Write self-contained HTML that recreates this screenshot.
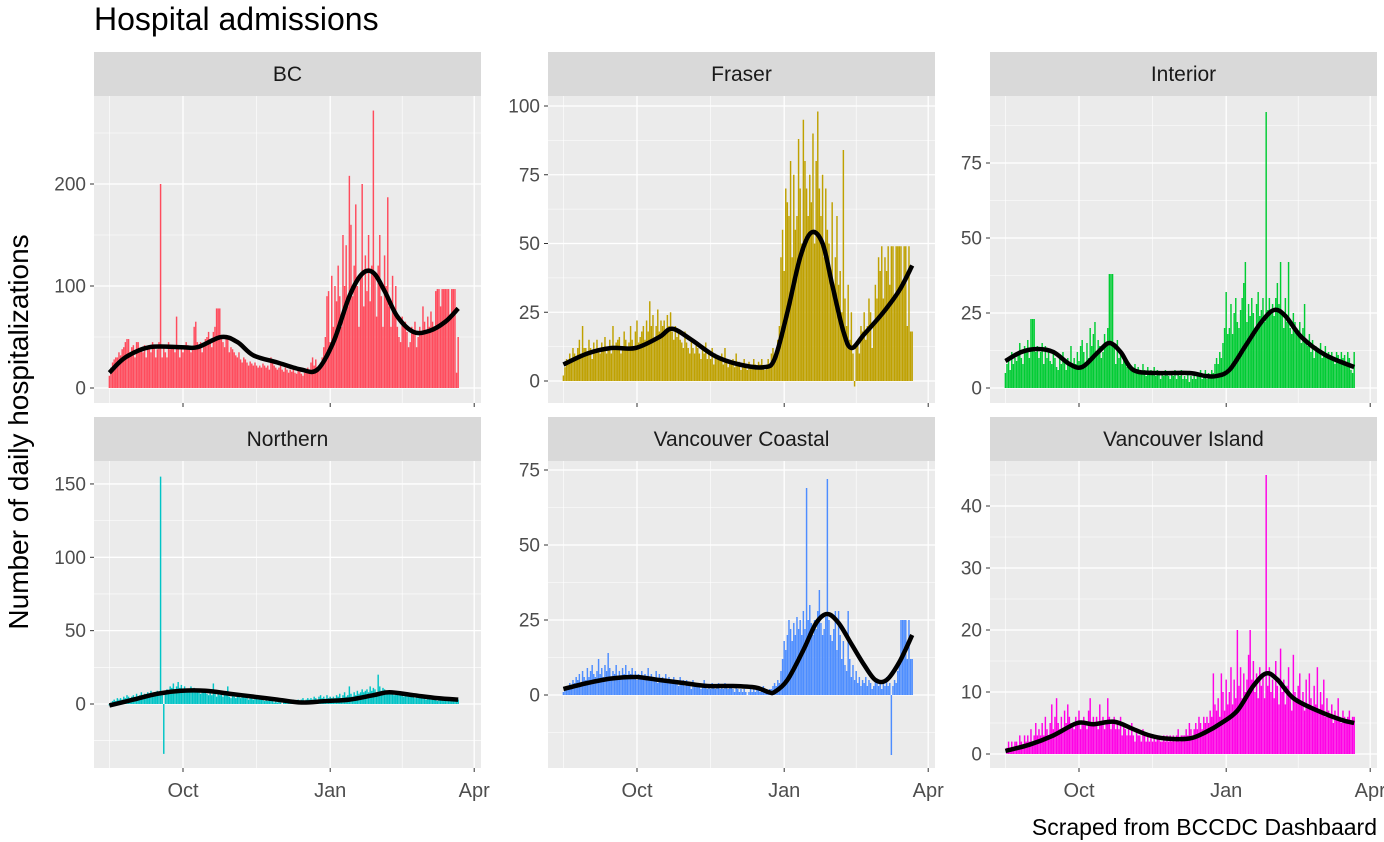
<!DOCTYPE html>
<html><head><meta charset="utf-8"><style>
body{margin:0;background:#fff;}
svg{display:block;font-family:"Liberation Sans",Arial,sans-serif;}
</style></head><body>
<svg id="chart" width="1384" height="842" viewBox="0 0 1384 842" xmlns="http://www.w3.org/2000/svg">
<rect width="1384" height="842" fill="#fff"/>
<text x="94" y="30" font-size="32" fill="#000">Hospital admissions</text>
<text transform="translate(28,432) rotate(-90)" text-anchor="middle" font-size="28" fill="#000">Number of daily hospitalizations</text>
<text x="1377" y="835" text-anchor="end" font-size="23" fill="#000">Scraped from BCCDC Dashbaard</text>
<g id="panels"></g>
</svg>
<script>
const regions = ["BC","Fraser","Interior","Northern","Vancouver Coastal","Vancouver Island"];
const xTickLabels = ["Oct","Jan","Apr"];
const xTickDays = [46,138,228];
const bcValues = [12,20,25,28,30,30,35, 32,38,40,45,48,48,35, 40,42,30,45,45,38,40, 35,42,30,38,40,35,45, 40,30,38,45,200,30,40, 35,30,45,38,40,42,35, 70,40,30,38,35,40,45, 42,38,35,40,60,65,45, 40,45,35,42,48,50,55, 45,40,55,60,78,78,78, 50,45,40,52,48,35,40, 38,35,32,30,35,28,25, 30,28,25,22,26,24,22, 25,22,20,22,20,24,22, 20,22,18,30,28,22,20, 18,20,22,18,16,20,18, 15,18,16,20,15,14,18, 16,14,12,15,18,20,16, 25,30,22,28,20,18,25, 30,40,50,90,95,45,110, 60,100,85,120,90,60,150, 100,140,80,208,160,90,120, 180,100,60,110,200,80,130, 95,150,85,120,272,110,70, 120,150,90,60,130,100,187, 80,60,110,75,100,60,50, 45,70,60,65,55,40,45, 60,55,65,40,50,60,55, 80,65,55,70,60,75,65, 60,95,97,97,80,97,97, 97,97,97,70,97,97,97, 15,50];
const fraserValues = [2,5,8,6,10,8,12, 10,8,12,15,10,20,12, 12,10,15,12,8,14,10, 15,12,10,14,12,16,10, 12,15,10,20,12,14,15, 16,10,12,18,15,12,14, 20,15,12,18,22,14,16, 18,20,15,22,18,29,20, 24,15,20,26,18,22,20, 22,18,24,20,25,18,15, 20,16,18,15,14,12,18, 14,12,10,15,12,10,14, 12,10,8,12,10,14,8, 10,8,12,6,10,8,9, 8,10,6,12,8,5,7, 6,8,5,10,6,7,4, 5,8,6,4,7,5,6, 8,6,5,7,6,8,5, 4,6,8,5,10,12,8, 10,15,20,45,55,40,70, 65,60,80,45,75,55,60, 88,70,50,95,80,70,60, 75,65,90,50,80,98,70, 60,75,45,70,55,50,40, 65,30,45,60,35,40,25, 84,30,20,35,15,25,10, -2,12,15,10,20,18,25, 15,20,30,25,12,20,35, 30,45,40,49,30,45,40, 49,35,49,49,30,49,49, 49,49,35,49,49,20,49, 18,18];
const interiorValues = [5,8,10,6,12,8,10, 9,12,15,10,8,14,12, 16,10,23,23,23,12,14, 10,12,15,8,14,10,12, 9,8,12,10,7,6,10, 8,12,9,6,10,8,14, 7,10,8,12,9,14,16, 12,8,15,10,20,14,18, 22,12,16,14,10,12,18, 15,20,38,38,38,14,8, 16,10,12,8,10,9,7, 7,7,7,6,8,5,7, 6,5,8,6,4,7,5, 6,5,7,4,6,5,3, 5,4,6,5,4,3,5, 4,6,3,5,4,6,3, 4,3,5,2,4,3,5, 3,5,4,6,3,4,6, 3,5,4,6,5,8,10, 8,12,10,15,20,32,18, 20,28,18,25,30,22,20, 26,30,35,42,22,28,24, 30,25,20,28,32,24,26, 30,22,92,26,30,25,28, 24,30,35,28,42,25,20, 30,22,42,20,18,25,22, 20,18,22,15,20,28,15, 14,18,12,16,10,14,12, 12,15,10,12,14,10,12, 11,12,10,8,12,11,9, 12,10,11,8,12,10,6, 5,12];
const northernValues = [-1,1,2,3,2,4,3, 4,3,5,4,6,5,4, 5,6,4,7,5,6,8, 6,7,5,8,6,9,7, 8,6,9,7,155,6,-34, 8,10,9,12,11,14,10, 12,15,11,13,10,12,9, 10,8,12,9,11,8,10, 9,7,10,8,9,7,6, 8,6,14,7,5,9,6, 7,5,8,6,12,5,4, 6,5,4,7,5,4,6, 5,4,6,3,5,4,3, 4,6,3,5,4,3,2, 3,2,4,3,2,1,2, 1,2,1,0,2,1,1, 2,1,2,3,1,2,3, 2,3,4,2,3,4,3, 4,3,5,4,3,5,6, 4,5,3,6,4,5,4, 5,4,6,5,7,4,6, 8,5,6,12,7,5,8, 6,9,7,8,10,8,9, 10,8,12,9,11,10,8, 20,12,9,11,10,8,9, 8,7,9,6,8,7,6, 7,6,5,7,6,5,6, 5,6,4,5,4,6,5, 4,5,3,4,5,3,4, 3,4,2,3,4,3,2, 3,2,3,2,3,2,3, 2,3];
const coastalValues = [1,2,3,2,4,3,5, 4,6,5,7,4,8,6, 5,9,6,8,10,7,6, 8,12,7,9,6,10,8, 14,9,6,8,7,10,6, 8,6,9,7,10,6,8, 7,9,6,8,5,7,6, 8,5,7,6,9,5,7, 6,5,8,4,7,5,6, 5,7,4,6,5,4,6, 4,5,3,6,4,5,3, 5,3,4,2,5,3,4, 3,4,2,3,5,3,2, 3,2,4,3,2,3,4, 2,3,2,4,3,2,3, 3,2,1,3,2,1,2, 1,2,1,0,1,2,1, 2,1,3,2,1,2,3, 1,2,1,2,2,3,4, 3,5,4,8,12,18,15, 20,25,22,18,24,20,26, 22,25,20,28,22,69,25, 30,24,20,25,22,28,35, 24,20,22,26,72,25,20, 18,22,28,15,28,20,12, 18,10,8,28,12,6,10, 5,8,4,6,3,5,4, 6,3,5,4,2,3,5, 4,3,5,2,4,3,6, 3,4,-20,3,5,4,8, 12,25,25,25,25,12,25, 12,12];
const islandValues = [0,1,2,1,2,1,2, 2,1,3,2,1,3,2, 3,2,4,2,3,5,3, 4,3,5,3,6,4,3, 5,8,4,6,9,5,4, 6,4,7,5,8,6,5, 5,4,6,5,7,4,5, 6,5,4,7,9,5,6, 5,6,4,8,5,6,4, 5,9,6,4,5,6,4, 5,4,6,3,5,4,3, 4,3,5,3,2,4,3, 3,2,4,3,2,3,2, 3,2,3,2,3,3,2, 2,3,2,3,2,3,2, 3,2,3,4,2,3,3, 3,4,3,5,4,3,4, 5,4,6,5,4,6,5, 6,5,7,6,13,8,7, 9,6,13,10,7,12,8, 10,14,8,12,9,20,11, 14,9,13,10,12,16,20, 12,15,10,13,9,14,11, 13,9,45,11,14,10,12, 9,15,11,8,17,10,12, 8,11,14,9,7,16,10, 9,11,13,8,10,7,12, 8,13,9,7,11,8,14, 7,10,8,12,6,9,7, 6,8,5,7,6,9,6, 5,7,6,5,6,7,5, 6,6];
const smoothDays = {
 BC:[0,10,25,45,55,70,80,90,105,120,130,140,150,158,165,172,180,190,200,210,218],
 Fraser:[0,15,30,45,60,68,80,95,110,125,132,140,148,155,162,168,175,180,188,200,210,218],
 Interior:[0,10,20,30,40,48,58,65,72,80,95,115,125,132,140,150,160,168,175,185,200,218],
 Northern:[0,15,30,45,60,75,90,105,120,135,150,165,175,190,205,218],
 Coastal:[0,15,30,45,60,75,90,105,120,128,132,140,150,158,165,172,180,188,195,202,210,218],
 Island:[0,15,30,45,55,68,80,90,100,115,125,135,145,155,163,170,180,195,210,218]};
const bcSmooth = [15,30,40,40,40,50,45,32,25,18,18,45,90,112,113,95,70,55,56,65,78];
const fraserSmooth = [6,10,12,12,16,19,15,9,6,5,8,25,45,54,50,35,18,12,17,25,33,42];
const interiorSmooth = [9,12,13,12,8,7,12,15,12,6,5,5,4,4,6,14,22,26,24,17,11,7];
const northernSmooth = [-1,3,7,9,9,7,5,3,1,2,3,6,8,6,4,3];
const coastalSmooth = [2,4,5.5,6,5,4,3,3,2.5,1,1,5,15,24,27,24,17,10,5,5,11,20];
const islandSmooth = [0.5,1.5,3,5,4.8,5.2,4,3,2.5,2.5,3.5,5,7,11,13,12,9,7,5.5,5];
const bcTicks=[0,100,200], fraserTicks=[0,25,50,75,100], interiorTicks=[0,25,50,75], northernTicks=[0,50,100,150], coastalTicks=[0,25,50,75], islandTicks=[0,10,20,30,40];

const NS="http://www.w3.org/2000/svg";
const root=document.getElementById('panels');
function mk(tag,attrs,parent){const e=document.createElementNS(NS,tag);for(const k in attrs)e.setAttribute(k,attrs[k]);(parent||root).appendChild(e);return e;}
const panels=[
 {name:regions[0],vals:bcValues,sd:smoothDays.BC,sm:bcSmooth,ticks:bcTicks,left:94,top:96,y0:388,s:1.02,col:"#FF4B5C",slug:"bc"},
 {name:regions[1],vals:fraserValues,sd:smoothDays.Fraser,sm:fraserSmooth,ticks:fraserTicks,left:548,top:96,y0:381,s:2.75,col:"#BFA100",slug:"fraser"},
 {name:regions[2],vals:interiorValues,sd:smoothDays.Interior,sm:interiorSmooth,ticks:interiorTicks,left:990,top:96,y0:388,s:3.0,col:"#00CC33",slug:"interior"},
 {name:regions[3],vals:northernValues,sd:smoothDays.Northern,sm:northernSmooth,ticks:northernTicks,left:94,top:461,y0:704,s:1.467,col:"#00C4C6",slug:"northern"},
 {name:regions[4],vals:coastalValues,sd:smoothDays.Coastal,sm:coastalSmooth,ticks:coastalTicks,left:548,top:461,y0:695,s:3.0,col:"#4D8DFF",slug:"vancouver-coastal"},
 {name:regions[5],vals:islandValues,sd:smoothDays.Island,sm:islandSmooth,ticks:islandTicks,left:990,top:461,y0:754,s:6.2,col:"#FF00E6",slug:"vancouver-island"}];
const W=387,H=307,PXD=1.6;
panels.forEach((p,pi)=>{
 const g=mk('g',{});
 
 
 const xs=d=>p.left+89+(d-46)*PXD;
 const ys=v=>p.y0-v*p.s;
 const strip=mk('rect',{x:p.left,y:p.top-44,width:W,height:44,fill:"#D9D9D9"},g);
 
 
 const st=mk('text',{x:p.left+W/2,y:p.top-15,'text-anchor':'middle','font-size':21,fill:'#1A1A1A'},g);
 st.textContent=p.name;
 
 
 mk('rect',{x:p.left,y:p.top,width:W,height:H,fill:"#EBEBEB"},g);
 const step=p.ticks[1]-p.ticks[0];
 for(let v=p.ticks[0]-step/2; v<=p.ticks[p.ticks.length-1]+step*2; v+=step){const y=ys(v);if(y>p.top&&y<p.top+H)mk('line',{x1:p.left,x2:p.left+W,y1:y,y2:y,stroke:'#fff','stroke-width':0.6},g);}
 [0,46+(138-46)/2,138+45].forEach(d=>{const x=xs(d===0?46-(92/2):d);mk('line',{x1:x,x2:x,y1:p.top,y2:p.top+H,stroke:'#fff','stroke-width':0.6},g);});
 xTickDays.forEach(d=>{const x=xs(d);mk('line',{x1:x,x2:x,y1:p.top,y2:p.top+H,stroke:'#fff','stroke-width':1.3},g);
   mk('line',{x1:x,x2:x,y1:p.top+H,y2:p.top+H+4,stroke:'#333','stroke-width':1},g);});
 p.ticks.forEach(v=>{const y=ys(v);mk('line',{x1:p.left,x2:p.left+W,y1:y,y2:y,stroke:'#fff','stroke-width':1.3},g);
   mk('line',{x1:p.left-4,x2:p.left,y1:y,y2:y,stroke:'#333','stroke-width':1},g);
   const t=mk('text',{x:p.left-8,y:y+6.5,'text-anchor':'end','font-size':19,fill:'#4D4D4D'},g);t.textContent=v;
   
   });
 if(pi>=3){xTickDays.forEach((d,i)=>{const t=mk('text',{x:xs(d),y:p.top+H+29,'text-anchor':'middle','font-size':20,fill:'#4D4D4D'},g);t.textContent=xTickLabels[i];
   
   });}
 p.vals.forEach((v,d)=>{const x=xs(d)-0.75;const y1=ys(Math.max(v,0)),y2=ys(Math.min(v,0));
   const r=mk('rect',{x:x,y:y1,width:1.45,height:Math.max(y2-y1,0.01),fill:p.col},g);
   
   });
 const pts=p.sd.map((d,i)=>[xs(d),ys(p.sm[i])]);
 let dstr='M'+pts[0][0]+','+pts[0][1];
 for(let i=0;i<pts.length-1;i++){const p0=pts[Math.max(i-1,0)],p1=pts[i],p2=pts[i+1],p3=pts[Math.min(i+2,pts.length-1)];
   dstr+=` C${p1[0]+(p2[0]-p0[0])/6},${p1[1]+(p2[1]-p0[1])/6} ${p2[0]-(p3[0]-p1[0])/6},${p2[1]-(p3[1]-p1[1])/6} ${p2[0]},${p2[1]}`;}
 const path=mk('path',{d:dstr,fill:'none',stroke:'#000','stroke-width':4.5,'stroke-linejoin':'round'},g);
 
 
});
</script>
</body></html>
